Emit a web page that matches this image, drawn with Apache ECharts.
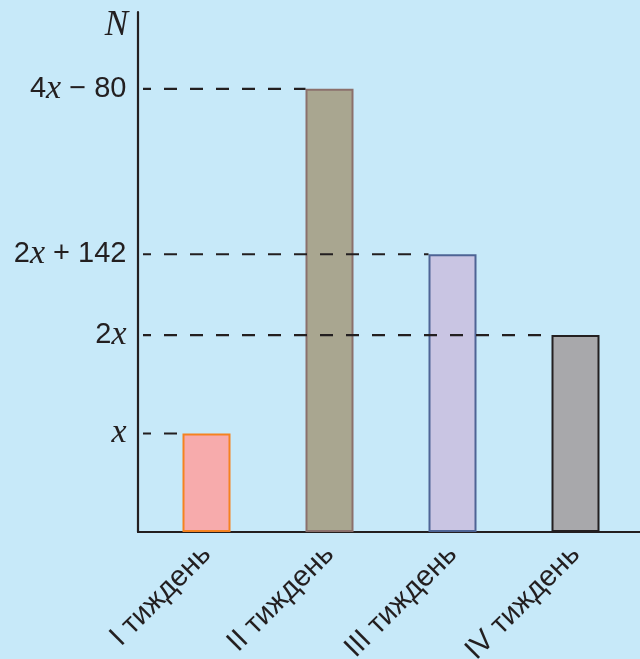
<!DOCTYPE html>
<html>
<head>
<meta charset="utf-8">
<script src="https://cdn.jsdelivr.net/npm/echarts@6/dist/echarts.min.js"></script>
<style>
  html, body { margin: 0; padding: 0; background: #c7e9f9; }
  #panel { width: 640px; height: 659px; }
</style>
</head>
<body>
<div id="panel"></div>
<script>
// дані
const categories = ['I тиждень', 'II тиждень', 'III тиждень', 'IV тиждень'];
const values = [100, 450, 282, 200];
const levelLabels = ['x', '4x − 80', '2x + 142', '2x'];
const fills = ['#f7abac', '#a9a690', '#c9c5e3', '#a8a8ab'];
const borders = ['#f58220', '#8b706c', '#4e6495', '#231f20'];

const INK = '#231f20';
const BAR_W = 48;
const BAND = 123;     // ширина категорії, px
const AXIS_SHIFT = 7; // вісь N лівіше від сітки з колонками

const richText = (s) => s.replace(/x/g, '{v|x}');

const myChart = echarts.init(document.getElementById('panel'));

// пунктир від осі до лівого краю колонки
const dashSeries = values.map((v, i) => ({
  type: 'line',
  xAxisIndex: 1,
  yAxisIndex: 0,
  clip: false,
  symbol: 'none',
  silent: true,
  z: 3,
  lineStyle: { color: INK, width: 2.2, type: [13, 13] },
  data: [
    [-AXIS_SHIFT / BAND, v],
    [i + 0.5 - BAR_W / 2 / BAND, v]
  ]
}));

// підписи рівнів біля осі N
const levelSeries = {
  type: 'scatter',
  xAxisIndex: 1,
  yAxisIndex: 0,
  clip: false,
  silent: true,
  symbolSize: 1,
  itemStyle: { color: 'rgba(0,0,0,0)', opacity: 1 },
  z: 4,
  label: {
    show: true,
    position: 'left',
    distance: 11,
    color: INK,
    opacity: 1,
    fontFamily: 'Liberation Sans',
    fontSize: 29,
    rich: {
      v: { fontFamily: 'Liberation Serif', fontStyle: 'italic', fontSize: 34, color: INK }
    },
    formatter: (p) => richText(levelLabels[p.dataIndex])
  },
  data: values.map((v) => [-AXIS_SHIFT / BAND, v])
};

const option = {
  backgroundColor: '#c7e9f9',
  animation: false,
  grid: [
    { left: 145, right: 3, top: 12, bottom: 127, outerBoundsMode: 'none' },
    { left: 138, right: 0, top: 12, bottom: 127, outerBoundsMode: 'none' }
  ],
  xAxis: [
    {
      type: 'category',
      gridIndex: 0,
      data: categories,
      axisLine: { show: false },
      axisTick: { show: false },
      axisLabel: {
        interval: 0,
        rotate: 45,
        margin: 18,
        color: INK,
        fontFamily: 'Liberation Sans',
        fontSize: 29
      }
    },
    { type: 'value', gridIndex: 0, min: 0, max: 4, show: false },
    {
      type: 'value',
      gridIndex: 1,
      min: 0,
      max: 1,
      axisLine: { show: true, lineStyle: { color: INK, width: 2.2 } },
      axisTick: { show: false },
      axisLabel: { show: false },
      splitLine: { show: false }
    }
  ],
  yAxis: [
    { type: 'value', gridIndex: 0, min: 0, max: 528, show: false },
    {
      type: 'value',
      gridIndex: 1,
      min: 0,
      max: 1,
      name: 'N',
      nameLocation: 'end',
      nameGap: 4,
      nameTextStyle: {
        color: INK,
        fontFamily: 'Liberation Serif',
        fontStyle: 'italic',
        fontSize: 35,
        align: 'right',
        verticalAlign: 'top',
        padding: [0, 10, 0, 0]
      },
      axisLine: { show: true, lineStyle: { color: INK, width: 2.2 } },
      axisTick: { show: false },
      axisLabel: { show: false },
      splitLine: { show: false }
    }
  ],
  series: [
    {
      type: 'bar',
      xAxisIndex: 0,
      yAxisIndex: 0,
      barWidth: BAR_W,
      z: 2,
      data: values.map((v, i) => ({
        value: v,
        itemStyle: { color: fills[i], borderColor: borders[i], borderWidth: 2 }
      }))
    },
    ...dashSeries,
    levelSeries
  ]
};
myChart.setOption(option);
</script>
</body>
</html>
